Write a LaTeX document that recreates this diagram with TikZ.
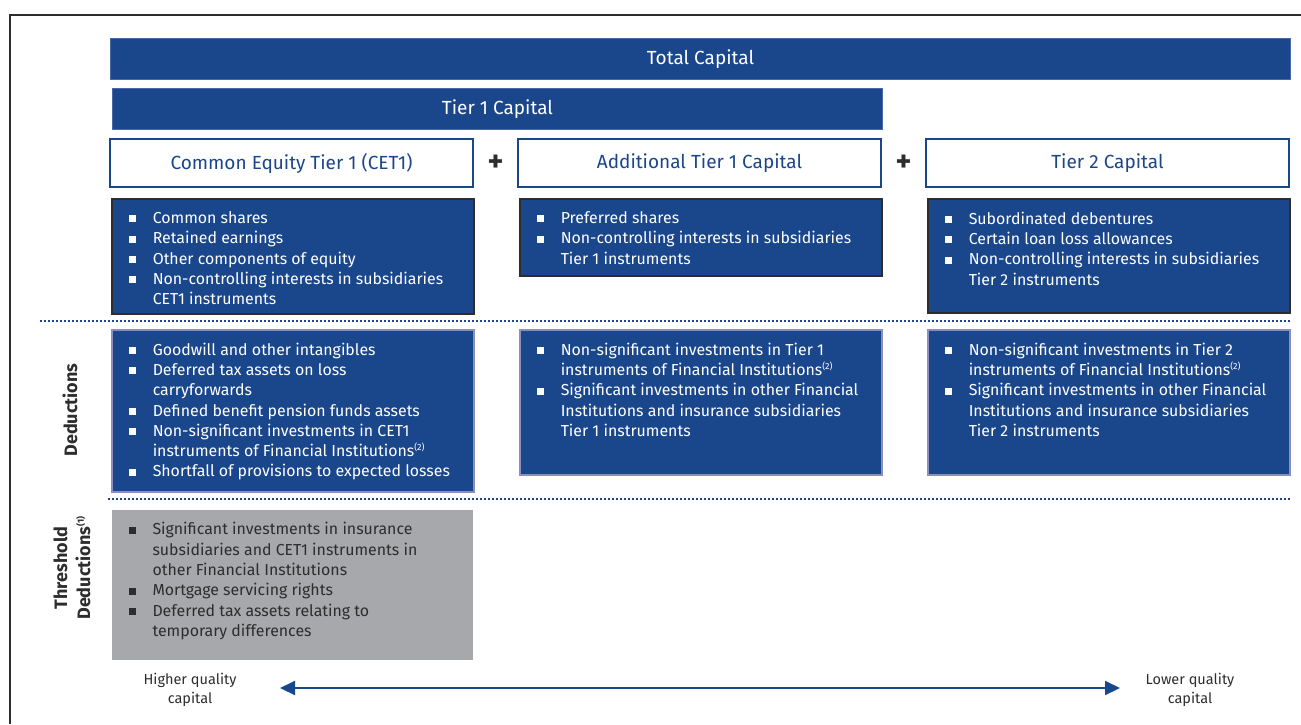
\documentclass[tikz,border=0pt]{standalone}
\usepackage{fontspec}
\setmainfont{Fira Sans}
\usepackage{tikz}
\usetikzlibrary{arrows.meta, positioning, calc}
\usepackage{xcolor}
\definecolor{CapBlue}{RGB}{26, 70, 139}
\definecolor{CapEdge}{RGB}{72, 104, 168}
\definecolor{DedEdge}{RGB}{138, 143, 192}
\definecolor{ThrGrey}{RGB}{167, 168, 171}
\definecolor{InkDark}{RGB}{45, 45, 45}
\newcommand{\bul}{\par\noindent\hangindent=24pt\hangafter=1\makebox[24pt][l]{\raisebox{1.2pt}{\rule{7pt}{7pt}}}}
\newcommand{\lst}[2]{\parbox[c][#1][t]{328pt}{\vspace*{13pt}#2}}
\newcommand{\fn}[1]{\textsuperscript{\fontsize{9}{9}\selectfont(#1)}}
\tikzset{
  bar/.style={rectangle, draw=CapEdge, fill=CapBlue, line width=1pt,
              minimum height=41pt, inner sep=0pt, anchor=north west,
              font=\fontsize{19}{22}\selectfont, text=white},
  head/.style={rectangle, draw=CapBlue, fill=white, line width=1.5pt,
               minimum width=363pt, minimum height=48pt, inner sep=0pt,
               outer sep=0pt, font=\fontsize{19}{22}\selectfont, text=CapBlue},
  lbox/.style={rectangle, draw=#1, fill=CapBlue, line width=1.5pt,
               minimum width=362pt, inner sep=0pt, align=left,
               font=\fontsize{15.9}{20.3}\selectfont, text=white},
  gbox/.style={rectangle, draw=white, fill=ThrGrey, line width=1pt,
               minimum width=362pt, inner sep=0pt, align=left,
               font=\fontsize{15.9}{20.3}\selectfont, text=InkDark},
  side/.style={font=\fontsize{18}{23}\selectfont\bfseries, text=InkDark,
               rotate=90, align=center},
  qual/.style={font=\fontsize{14.5}{19}\selectfont, text=InkDark, align=center},
  plus/.style={font=\fontsize{30}{30}\selectfont\bfseries, text=InkDark},
  sep/.style={draw=CapBlue, line width=2.5pt, dash pattern=on 2pt off 2pt},
  arr/.style={{Triangle[length=15pt, width=14pt]}-{Triangle[length=15pt, width=14pt]},
              line width=2pt, color=#1},
}

\begin{document}
\begin{tikzpicture}[x=1pt, y=-1pt]
  \useasboundingbox (0,0) rectangle (1301,724);
  % frame
  \draw[InkDark, line width=2pt] (9.5,724) -- (9.5,14.5) -- (1301,14.5);

  % capital bars
  \node[bar, minimum width=1180pt] (total) at (110,38) {};
  \node[text=white, font=\fontsize{19}{22}\selectfont] (totaltxt) at (total.center) {Total Capital};
  \node[bar, minimum width=770pt] (tier1) at (112,88) {};
  \node[text=white, font=\fontsize{19}{22}\selectfont] (tier1txt) at (tier1.center) {Tier 1 Capital};

  % tier headers
  \node[head, anchor=north west] (cethead) at (110,139) {Common Equity Tier 1 (CET1)};
  \node[head, right=45pt of cethead] (at1head) {Additional Tier 1 Capital};
  \node[head, right=45pt of at1head] (t2head) {Tier 2 Capital};
  \node[plus] (plusa) at ($(cethead.east)!0.5!(at1head.west)$) {+};
  \node[plus] (plusb) at ($(at1head.east)!0.5!(t2head.west)$) {+};

  % instruments
  \node[lbox=InkDark, anchor=north west] (cetlist) at (111,198) {\lst{115pt}{%
    \bul Common shares
    \bul Retained earnings
    \bul Other components of equity
    \bul Non-controlling interests in subsidiaries\\CET1 instruments}};
  \node[lbox=InkDark, anchor=north west] (at1list) at (519,198) {\lst{77pt}{%
    \bul Preferred shares
    \bul Non-controlling interests in subsidiaries\\Tier 1 instruments}};
  \node[lbox=InkDark, anchor=north west] (t2list) at (927,198) {\lst{114pt}{%
    \bul Subordinated debentures
    \bul Certain loan loss allowances
    \bul Non-controlling interests in subsidiaries\\Tier 2 instruments}};

  \coordinate (sepa) at (40,321);
  \coordinate (sepb) at (1290,321);
  \draw[sep] (sepa) -- (sepb);

  % deductions
  \node[lbox=DedEdge, anchor=north west] (cetded) at (111,329) {\lst{162pt}{%
    \bul Goodwill and other intangibles
    \bul Deferred tax assets on loss\\carryforwards
    \bul Defined benefit pension funds assets
    \bul Non-significant investments in CET1\\instruments of Financial Institutions\fn{2}
    \bul Shortfall of provisions to expected losses}};
  \node[lbox=DedEdge, anchor=north west] (at1ded) at (519,329) {\lst{145pt}{%
    \bul Non-significant investments in Tier 1\\instruments of Financial Institutions\fn{2}
    \bul Significant investments in other Financial\\Institutions and insurance subsidiaries\\Tier 1 instruments}};
  \node[lbox=DedEdge, anchor=north west] (t2ded) at (927,329) {\lst{145pt}{%
    \bul Non-significant investments in Tier 2\\instruments of Financial Institutions\fn{2}
    \bul Significant investments in other Financial\\Institutions and insurance subsidiaries\\Tier 2 instruments}};
  \node[side] (dedlab) at (70,410) {Deductions};

  \coordinate (sepc) at (108,499);
  \coordinate (sepd) at (1290,499);
  \draw[sep] (sepc) -- (sepd);

  % threshold deductions
  \node[gbox, anchor=north west] (thrbox) at (111,509) {\lst{151pt}{%
    \bul Significant investments in insurance\\subsidiaries and CET1 instruments in\\other Financial Institutions
    \bul Mortgage servicing rights
    \bul Deferred tax assets relating to\\temporary differences}};
  \node[side] (thrlab) at (72,568) {Threshold\\Deductions\fn{1}};

  % quality scale
  \node[qual] (high) at (190,690) {Higher quality\\capital};
  \node[qual] (low) at (1190,690) {Lower quality\\capital};
  \coordinate (arrl) at (280,688);
  \coordinate (arrr) at (1120,688);
  \draw[arr=CapBlue] (arrl) -- (arrr);
\end{tikzpicture}
\end{document}
